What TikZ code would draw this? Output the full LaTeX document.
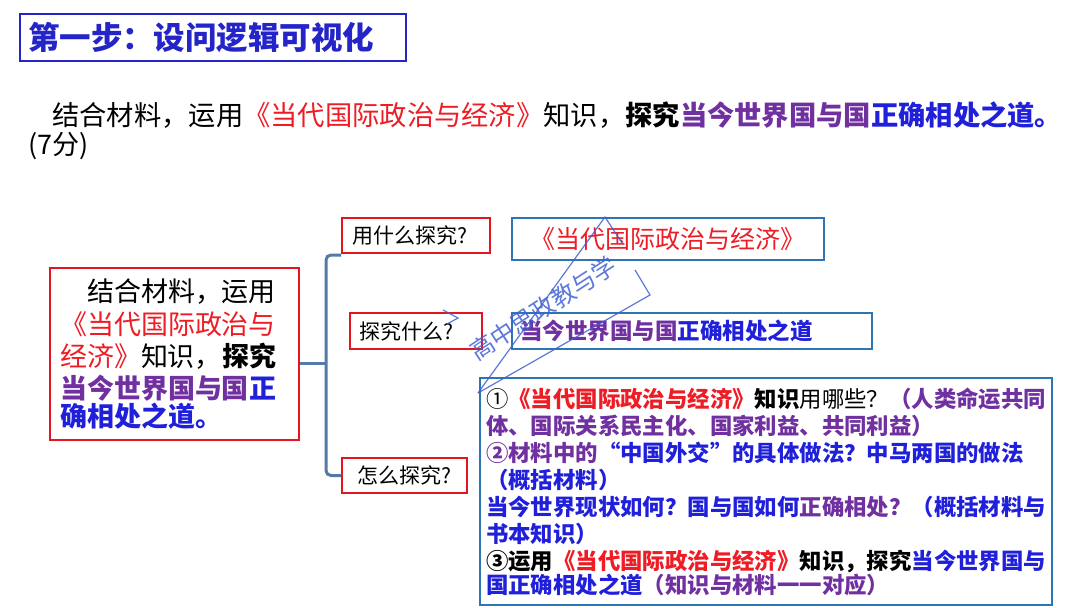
\documentclass[tikz,border=0pt]{standalone}
\usepackage{fontspec}
\setmainfont{Noto Sans CJK SC}
\usepackage{tikz}
\usetikzlibrary{positioning}
\definecolor{txtred}{RGB}{238,28,36}
\definecolor{txtpurple}{RGB}{112,48,160}
\definecolor{txtblue}{RGB}{32,32,218}
\definecolor{titleblue}{RGB}{36,36,200}
\definecolor{borderred}{RGB}{230,20,32}
\definecolor{borderblue}{RGB}{46,117,182}
\definecolor{bracketblue}{RGB}{84,122,168}
\definecolor{stampblue}{RGB}{64,96,212}
\tikzset{
	titlebox/.style   = {draw=titleblue, line width=2.5pt, rectangle, align=left},
	redbox/.style     = {draw=borderred, line width=2pt, rectangle},
	bluebox/.style    = {draw=borderblue, line width=2pt, rectangle},
	bracket/.style    = {draw=bracketblue, line width=3pt, rounded corners=5pt},
	stamp/.style      = {draw=stampblue, line width=1.2pt, opacity=0.85},
}
\newcommand{\redtxt}[1]{\textcolor{txtred}{#1}}
\newcommand{\purptxt}[1]{\textcolor{txtpurple}{#1}}
\newcommand{\bluetxt}[1]{\textcolor{txtblue}{#1}}

\begin{document}
\begin{tikzpicture}[x=1pt, y=-1pt,
                    every node/.style={text=black}  %<--plain black text unless coloured
                    ]
    \useasboundingbox (0,0) rectangle (1080,608);

    %-- Heading --%
    \draw
      node(title) at (213,37.5) [titlebox, minimum width=386pt, minimum height=47pt, text width=370pt]
        {\fontsize{31.5}{36}\selectfont\bfseries\textcolor{titleblue}{第一步：设问逻辑可视化}}
      node(question) at (52,115) [anchor=west, inner sep=0pt]
        {\fontsize{27.3}{32}\selectfont 结合材料，运用\redtxt{《当代国际政治与经济》}知识，\textbf{探究\purptxt{当今世界国与国}\bluetxt{正确相处之道。}}}
      node(score) at (28,146) [anchor=west, inner sep=0pt]
        {\fontsize{27}{32}\selectfont (7分)}
    ;
    %-- Blocks creation --%
    \draw
      % QUESTION %
      node(askbox) at (174.5,354) [redbox, minimum width=249pt, minimum height=172pt, text width=229pt, align=left]
        {\fontsize{27}{32.3}\selectfont　结合材料，运用\\
         \redtxt{《当代国际政治与}\\
         \redtxt{经济》}知识，\textbf{探究}\\
         \textbf{\purptxt{当今世界国与国}\bluetxt{正}}\\
         \textbf{\bluetxt{确相处之道。}}}
      % SUB QUESTIONS %
      node(useWhat) at (416,235.5) [redbox, minimum width=148pt, minimum height=35pt, text width=128pt, align=left]
        {\fontsize{21}{24}\selectfont 用什么探究?}
      node(probeWhat) at (416,331) [redbox, minimum width=132pt, minimum height=36pt, text width=114pt, align=left]
        {\fontsize{21}{24}\selectfont 探究什么?}
      node(probeHow) at (404.5,475.5) [redbox, minimum width=125pt, minimum height=35pt]
        {\fontsize{21}{24}\selectfont 怎么探究?}
    ;
    \draw
      % ANSWERS %
      node(useAns) at (668,239) [bluebox, minimum width=312pt, minimum height=42pt]
        {\fontsize{25}{30}\selectfont\redtxt{《当代国际政治与经济》}}
      node(probeAns) at (692,331) [bluebox, minimum width=360pt, minimum height=36pt, text width=344pt, align=left]
        {\fontsize{22.5}{26}\selectfont\bfseries\purptxt{当今世界国与国}\bluetxt{正确相处之道}}
      node(howAns) at (766,491.5) [bluebox, minimum width=572pt, minimum height=227pt, text width=560pt, align=left]
        {\fontsize{22.4}{27}\selectfont
         ①\textbf{\redtxt{《当代国际政治与经济》}知识}用哪些？\textbf{\purptxt{（人类命运共同}}\\
         \textbf{\purptxt{体、国际关系民主化、国家利益、共同利益）}}\\
         \textbf{\purptxt{②材料中的}\bluetxt{“中国外交”的具体做法？中马两国的做法}}\\
         \textbf{\bluetxt{（概括材料）}}\\
         \textbf{\bluetxt{当今世界现状如何？国与国如何}\purptxt{正确相处？}\bluetxt{（概括材料与}}\\
         \textbf{\bluetxt{书本知识）}}\\
         \textbf{③运用\redtxt{《当代国际政治与经济》}知识，探究\bluetxt{当今世界国与}}\\
         \textbf{\bluetxt{国正确相处之道}\purptxt{（知识与材料一一对应）}}}
    ;
    \coordinate (brace) at (326,363);

    %-- Block linking --%
    \draw[bracket] (askbox.east |- brace) -- (brace);
    \draw[bracket] ([yshift=-1pt]useWhat.south west) -| (brace) |- (probeHow.west);

    %-- Stamp --%
    \draw
      node(stampText) at (543,308) [rotate=33, opacity=0.85]
        {\fontsize{24}{28}\selectfont\textcolor{stampblue}{高中思政教与学}}
    ;
    \coordinate (stampLow) at (478,393);
    \coordinate (stampTop) at (605,217);
    \coordinate (stampRight) at (650,295);
    \draw[stamp] (stampLow) -- (stampTop) -- (622,243);
    \draw[stamp] (635,270) -- (stampRight) -- (stampLow);
    \draw[stamp] (443,310) -- (458,318) -- (447,324);

\end{tikzpicture}
\end{document}
